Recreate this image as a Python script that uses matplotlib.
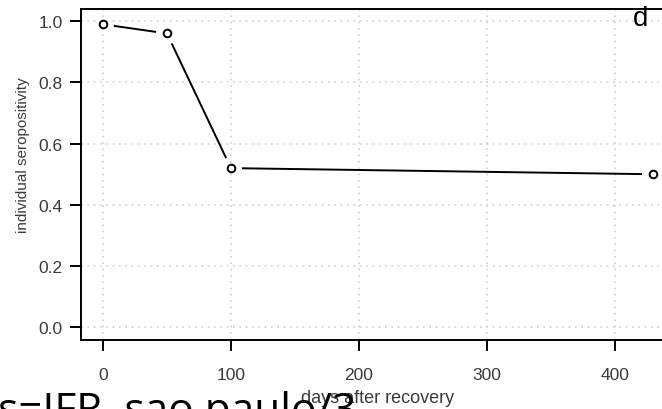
import numpy as np
import matplotlib.pyplot as plt

# seropositivity measured at each follow-up
days = [0, 50, 100, 430]
seropos = [0.99, 0.96, 0.52, 0.50]

xticks = [0, 100, 200, 300, 400]
yticks = [0.0, 0.2, 0.4, 0.6, 0.8, 1.0]

plt.rcParams['font.family'] = ['Liberation Sans', 'DejaVu Sans']

W, H = 662, 410
fig = plt.figure(figsize=(W / 100, H / 100), dpi=100)
# axes box runs a bit past the right edge of the figure
ax = fig.add_axes([81 / W, 69.5 / H, 594 / W, 330.5 / H])
ax.set_xlim(-17.2, 447.2)
ax.set_ylim(-0.04, 1.04)

# dotted grid at the tick positions
ax.set_xticks(xticks)
ax.set_yticks(yticks)
ax.set_yticklabels(['%.1f' % v for v in yticks])
ax.grid(True, color='#cfcfcf', lw=1.2, ls=(0, (1, 2.8)))
ax.set_axisbelow(True)

for s in ax.spines.values():
    s.set_linewidth(1.4)

ax.tick_params(axis='both', direction='out', length=8, width=1.4,
               labelsize=12.5, labelcolor='#3a3a3a')
ax.tick_params(axis='x', pad=11.5)
ax.tick_params(axis='y', pad=5)

# lines between points stop short of the markers (like R type="b")
pts = ax.transData.transform(np.column_stack([days, seropos]))
gap = 11
inv = ax.transData.inverted()
for p0, p1 in zip(pts[:-1], pts[1:]):
    d = p1 - p0
    u = d / np.hypot(d[0], d[1])
    seg = inv.transform([p0 + u * gap, p1 - u * gap])
    ax.plot(seg[:, 0], seg[:, 1], color='black', lw=1.4, solid_capstyle='butt')

ax.plot(days, seropos, ls='none', marker='o', ms=5.5, mew=1.4,
        mfc='white', mec='black', clip_on=False)

ax.set_xlabel('days after recovery', fontsize=13, color='#3a3a3a', va='center')
ax.xaxis.set_label_coords(0.5, -0.174)
ax.set_ylabel('individual seropositivity', fontsize=11, color='#3a3a3a', va='center')
ax.yaxis.set_label_coords(-0.097, 0.56)

ax.text(414.6, 0.988, 'd', fontsize=20, ha='left', va='baseline', clip_on=False)

fig.text(-2 / W, -13 / H, 's=IFR, sao paulo/3', fontsize=30.5,
         family='Open Sans', ha='left', va='baseline', color='black')

fig.savefig('out.png', dpi=100)
